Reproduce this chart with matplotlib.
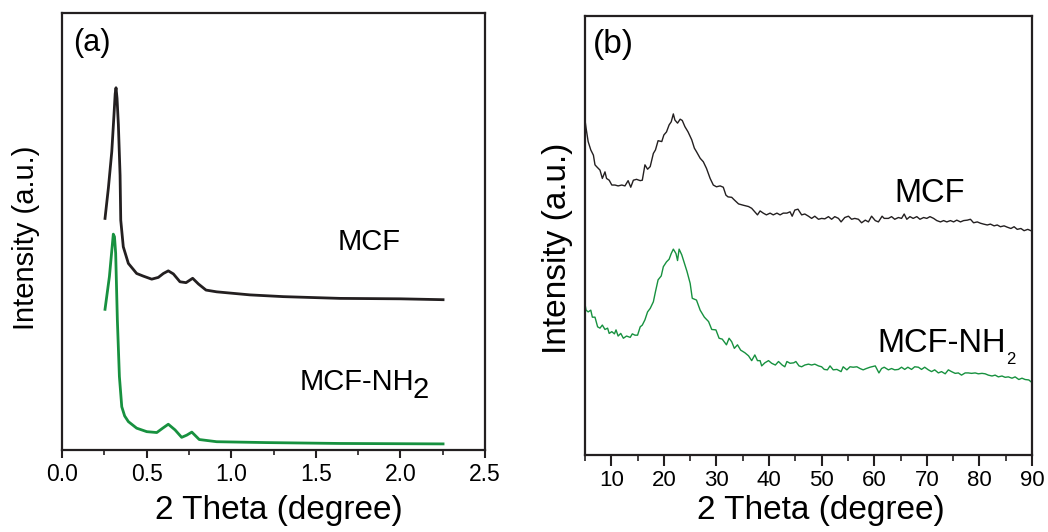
import matplotlib
matplotlib.use("Agg")
import matplotlib.pyplot as plt
from matplotlib.ticker import MultipleLocator

plt.rcParams["font.family"] = ["Liberation Sans", "DejaVu Sans"]

# ---- panel (a): small-angle XRD ----
a_x_mcf = [0.254, 0.274, 0.294, 0.307, 0.314, 0.319, 0.325, 0.333, 0.343, 0.347, 0.362,
           0.392, 0.441, 0.480, 0.530, 0.569, 0.599, 0.628, 0.658, 0.697, 0.733, 0.772,
           0.806, 0.851, 0.914, 1.111, 1.308, 1.643, 2.000, 2.252]
a_y_mcf = [53.0, 60.0, 68.3, 76.7, 81.5, 82.9, 80.5, 74.4, 62.9, 52.6, 46.5,
           42.7, 40.4, 39.8, 39.1, 39.5, 40.4, 41.0, 40.3, 38.5, 38.3, 39.3,
           38.0, 36.6, 36.2, 35.5, 35.1, 34.7, 34.6, 34.4]

a_x_nh2 = [0.254, 0.280, 0.303, 0.310, 0.317, 0.327, 0.339, 0.353, 0.370, 0.392, 0.441, 0.501,
           0.560, 0.595, 0.628, 0.668, 0.707, 0.737, 0.767, 0.811, 0.914, 1.210, 1.643, 2.252]
a_y_nh2 = [32.2, 39.7, 49.4, 48.8, 45.0, 29.7, 16.8, 9.9, 7.8, 6.5, 5.0, 4.2,
           4.0, 5.0, 5.9, 4.6, 2.9, 3.4, 4.1, 2.4, 1.9, 1.7, 1.5, 1.4]

# ---- panel (b): wide-angle XRD ----
b_x_mcf = [5.0, 5.2, 5.6, 6.1, 6.6, 6.9, 7.2, 7.85, 8.3, 8.8, 9.1, 9.6, 10.1, 10.7, 11.3,
           12.0, 12.6, 13.2, 13.7, 14.2, 14.8, 15.5, 15.9, 16.4, 16.9, 17.4, 18.0, 18.4,
           18.9, 19.6, 20.0, 20.5, 21.0, 21.4, 21.8, 22.1, 22.6, 23.1, 23.5, 24.0, 24.6,
           25.3, 25.8, 26.2, 26.9, 27.5, 28.1, 28.8, 29.4, 30.0, 30.7, 31.3, 31.8, 32.2,
           32.9, 33.4, 34.2, 35.1, 36.1, 36.7, 37.3, 37.8, 38.3, 38.9, 39.5, 40.2, 40.8,
           41.5, 42.1, 42.7, 43.4, 44.0, 44.4, 44.9, 45.5, 46.2, 46.8, 47.5, 48.1, 48.7,
           49.4, 50.0, 50.6, 51.3, 51.9, 52.5, 53.2, 53.7, 54.4, 55.1, 55.7, 56.3, 57.0,
           57.6, 58.3, 58.9, 59.5, 60.2, 60.8, 61.5, 61.9, 62.7, 63.3, 63.9, 64.6, 65.2,
           65.7, 66.2, 66.8, 67.4, 68.1, 68.7, 69.4, 70.0, 70.6, 71.3, 71.9, 72.6, 73.2,
           73.8, 74.5, 75.1, 75.7, 76.4, 77.0, 77.7, 78.3, 78.9, 79.6, 80.2, 80.8, 81.5,
           82.1, 82.8, 83.4, 84.0, 84.7, 85.3, 86.0, 86.6, 87.2, 87.9, 88.5, 89.2, 89.8]
b_y_mcf = [76.3, 74.5, 71.4, 69.5, 68.3, 66.1, 65.7, 64.9, 63.0, 64.5, 63.0, 62.6, 61.5, 61.5, 61.3,
           61.5, 61.3, 62.5, 61.0, 62.6, 62.8, 62.5, 62.6, 66.1, 65.1, 65.7, 68.7, 69.5,
           71.6, 71.4, 72.9, 73.6, 75.2, 75.9, 77.7, 76.3, 75.6, 76.5, 76.2, 74.8, 73.6,
           71.8, 69.9, 69.1, 67.6, 66.8, 65.3, 63.0, 61.5, 61.1, 61.3, 61.0, 59.2, 58.8,
           58.7, 58.1, 57.2, 56.9, 56.6, 56.2, 55.4, 54.7, 55.6, 55.1, 54.7, 55.1, 54.7,
           55.1, 54.7, 55.1, 55.1, 55.4, 54.4, 55.8, 56.0, 54.7, 54.9, 54.4, 53.9, 54.4,
           53.7, 53.9, 53.8, 54.3, 53.7, 54.3, 53.9, 53.1, 54.1, 54.4, 53.7, 53.9, 53.7,
           52.9, 53.5, 53.1, 54.4, 53.4, 53.1, 54.4, 53.9, 53.9, 54.3, 53.7, 54.1, 53.9,
           54.9, 53.7, 54.3, 53.9, 54.3, 53.7, 54.1, 53.9, 54.3, 53.9, 53.4, 53.1, 53.4,
           53.1, 53.4, 53.1, 53.5, 53.1, 53.4, 53.5, 53.7, 52.9, 53.1, 52.8, 52.6, 52.4,
           52.6, 52.2, 52.4, 52.0, 52.2, 51.9, 51.6, 52.0, 51.4, 51.6, 51.1, 51.4, 51.1]

b_x_nh2 = [5.0, 5.2, 5.6, 6.1, 6.4, 6.9, 7.4, 7.85, 8.3, 8.8, 9.3, 9.6, 10.1, 10.6, 10.9,
           11.3, 11.8, 12.3, 12.9, 13.6, 14.0, 14.5, 15.0, 15.5, 15.9, 16.4, 16.9, 17.4,
           18.0, 18.4, 18.9, 19.5, 19.9, 20.5, 21.0, 21.4, 21.8, 22.3, 22.6, 22.9, 23.4,
           23.9, 24.4, 25.0, 25.4, 26.2, 26.9, 27.7, 28.5, 29.1, 29.9, 30.5, 31.1, 31.9,
           32.4, 32.9, 33.4, 34.0, 34.6, 35.4, 36.1, 36.7, 37.3, 37.8, 38.3, 38.6, 39.2,
           39.9, 40.5, 41.2, 41.8, 42.5, 43.0, 43.4, 44.0, 44.7, 45.1, 45.7, 46.2, 46.8,
           47.5, 48.1, 48.7, 49.4, 50.0, 50.5, 51.1, 51.6, 52.2, 52.9, 53.7, 54.1, 54.8,
           55.4, 56.0, 56.7, 57.3, 57.9, 58.5, 59.2, 60.2, 60.9, 61.4, 61.9, 62.7, 63.3,
           63.9, 64.6, 65.2, 65.8, 66.4, 67.1, 67.7, 68.4, 69.0, 69.6, 70.3, 70.9, 71.5,
           72.2, 72.8, 73.5, 74.1, 74.7, 75.4, 76.0, 76.6, 77.3, 77.9, 78.5, 79.2, 79.8,
           80.5, 81.1, 81.7, 82.4, 83.0, 83.6, 84.3, 84.9, 85.5, 86.2, 86.8, 87.5, 88.1,
           88.7, 89.4, 90.0]
b_y_nh2 = [34.4, 33.0, 32.6, 33.0, 31.4, 31.4, 29.2, 28.9, 29.6, 28.6, 28.9, 27.7, 28.1, 27.6, 28.5,
           27.1, 27.7, 26.6, 27.1, 26.8, 27.6, 27.3, 27.3, 29.2, 29.6, 30.8, 32.6, 33.4,
           34.9, 37.2, 39.9, 40.8, 42.9, 44.0, 44.6, 45.9, 46.9, 45.9, 44.3, 46.9, 45.6,
           43.7, 41.8, 39.1, 35.7, 35.3, 33.0, 31.4, 30.4, 28.6, 28.5, 26.6, 26.4, 25.1,
           26.6, 25.8, 24.3, 25.1, 23.9, 23.3, 22.6, 21.5, 22.8, 21.5, 21.5, 20.3, 21.0,
           21.5, 20.9, 20.5, 21.3, 20.5, 20.1, 21.3, 20.9, 21.0, 21.3, 20.3, 20.1, 20.5,
           20.7, 20.5, 20.7, 20.3, 20.1, 19.5, 19.4, 20.3, 19.4, 19.5, 19.0, 20.1, 19.4,
           20.1, 20.0, 20.1, 19.7, 19.4, 19.7, 20.0, 20.3, 18.7, 19.7, 20.0, 19.4, 19.7,
           19.4, 19.5, 20.0, 19.5, 20.0, 19.5, 20.1, 20.0, 19.5, 20.0, 19.4, 19.0, 19.4,
           18.7, 19.0, 18.5, 19.4, 19.0, 18.6, 18.7, 18.2, 18.7, 18.7, 18.6, 18.7, 18.5,
           18.6, 18.5, 18.2, 18.0, 18.2, 17.8, 18.0, 17.7, 17.8, 17.5, 17.8, 17.2, 17.5,
           17.2, 17.1, 16.5]

black = "#231f20"
green = "#17913f"

fig = plt.figure(figsize=(10.48, 5.32), dpi=100)
ax1 = fig.add_axes([0.0592, 0.1541, 0.4036, 0.8214])
ax2 = fig.add_axes([0.5582, 0.1447, 0.4265, 0.8252])

# panel (a)
ax1.plot(a_x_mcf, a_y_mcf, color=black, lw=2.0, solid_joinstyle="round")
ax1.plot(a_x_nh2, a_y_nh2, color=green, lw=2.0, solid_joinstyle="round")
ax1.set_xlim(0, 2.5)
ax1.set_ylim(0, 100)
ax1.xaxis.set_major_locator(MultipleLocator(0.5))
ax1.xaxis.set_minor_locator(MultipleLocator(0.25))
ax1.tick_params(axis="x", which="major", direction="out", length=6, width=1.5,
                labelsize=16.5, pad=3, color=black)
ax1.tick_params(axis="x", which="minor", direction="out", length=3.5, width=1.2, color=black)
ax1.set_yticks([])
ax1.set_xlabel("2 Theta (degree)", fontsize=24)
ax1.set_ylabel("Intensity (a.u.)", fontsize=21)
ax1.xaxis.set_label_coords(0.512, -0.103)
ax1.yaxis.set_label_coords(-0.052, 0.485)
ax1.text(0.026, 0.914, "(a)", transform=ax1.transAxes, fontsize=22, va="baseline")
ax1.text(1.63, 45.8, "MCF", fontsize=21, va="baseline")
t1 = ax1.text(1.405, 13.7, "MCF-NH", fontsize=21, va="baseline")
ax1.annotate("2", xy=(1, 0), xycoords=t1, xytext=(-1, -6), textcoords="offset points",
             fontsize=21, va="bottom", ha="left")

# panel (b)
ax2.plot(b_x_mcf, b_y_mcf, color=black, lw=1.0)
ax2.plot(b_x_nh2, b_y_nh2, color=green, lw=1.0)
ax2.set_xlim(5, 90)
ax2.set_ylim(0, 100)
ax2.xaxis.set_major_locator(MultipleLocator(10))
ax2.xaxis.set_minor_locator(MultipleLocator(5))
ax2.tick_params(axis="x", which="major", direction="out", length=8, width=1.5,
                labelsize=16, pad=3, color=black)
ax2.tick_params(axis="x", which="minor", direction="out", length=4, width=1.2, color=black)
ax2.set_yticks([])
ax2.set_xlabel("2 Theta (degree)", fontsize=24)
ax2.set_ylabel("Intensity (a.u.)", fontsize=24)
ax2.xaxis.set_label_coords(0.528, -0.09)
ax2.yaxis.set_label_coords(-0.027, 0.4715)
ax2.text(0.018, 0.916, "(b)", transform=ax2.transAxes, fontsize=24, va="baseline")
ax2.text(63.8, 57.7, "MCF", fontsize=23.5, va="baseline")
t2 = ax2.text(60.6, 23.5, "MCF-NH", fontsize=23.5, va="baseline")
ax2.annotate("2", xy=(1, 0), xycoords=t2, xytext=(0.5, -6), textcoords="offset points",
             fontsize=12, va="bottom", ha="left")

for ax in (ax1, ax2):
    for s in ax.spines.values():
        s.set_linewidth(1.6)
        s.set_color(black)

fig.savefig("out.png", dpi=100)
